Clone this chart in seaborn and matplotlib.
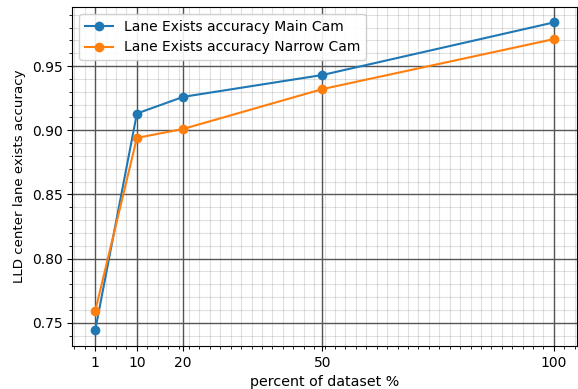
import matplotlib
matplotlib.use("Agg")
import matplotlib.pyplot as plt
from matplotlib.ticker import AutoMinorLocator
import seaborn as sns
import pandas as pd

# dataset fraction (%) and lane-exists accuracy for each camera
percent = [1, 10, 20, 50, 100]
main_cam = [0.744, 0.913, 0.926, 0.943, 0.984]
narrow_cam = [0.759, 0.894, 0.901, 0.932, 0.971]
series_names = ["Lane Exists accuracy Main Cam", "Lane Exists accuracy Narrow Cam"]
x_ticks = [1, 10, 20, 50, 100]

df = pd.DataFrame({
    "percent": percent * 2,
    "accuracy": main_cam + narrow_cam,
    "series": [series_names[0]] * len(percent) + [series_names[1]] * len(percent),
})

fig, ax = plt.subplots(figsize=(5.78, 3.89), dpi=100)
fig.subplots_adjust(left=0.125, right=0.998, top=0.982, bottom=0.111)

sns.lineplot(data=df, x="percent", y="accuracy", hue="series", hue_order=series_names,
             palette=["#1f77b4", "#ff7f0e"], marker="o", markersize=7,
             markeredgewidth=0, linewidth=1.5, ax=ax)

ax.set_xticks(x_ticks)
ax.set_xticklabels([str(t) for t in x_ticks])
ax.xaxis.set_minor_locator(AutoMinorLocator())
ax.yaxis.set_minor_locator(AutoMinorLocator())
ax.grid(which="major", color="#555555", linewidth=1.0)
# translucent black so minor lines never lighten the major ones where they cross
ax.grid(which="minor", color="black", alpha=0.12, linewidth=0.8)
ax.set_axisbelow(True)

ax.set_xlabel("percent of dataset %", fontsize=10.3)
ax.set_ylabel("LLD center lane exists accuracy", fontsize=9.6)
ax.tick_params(labelsize=10)
ax.legend(loc="upper left", fontsize=10, title=None, framealpha=0.9)

fig.savefig("out.png", dpi=100)
